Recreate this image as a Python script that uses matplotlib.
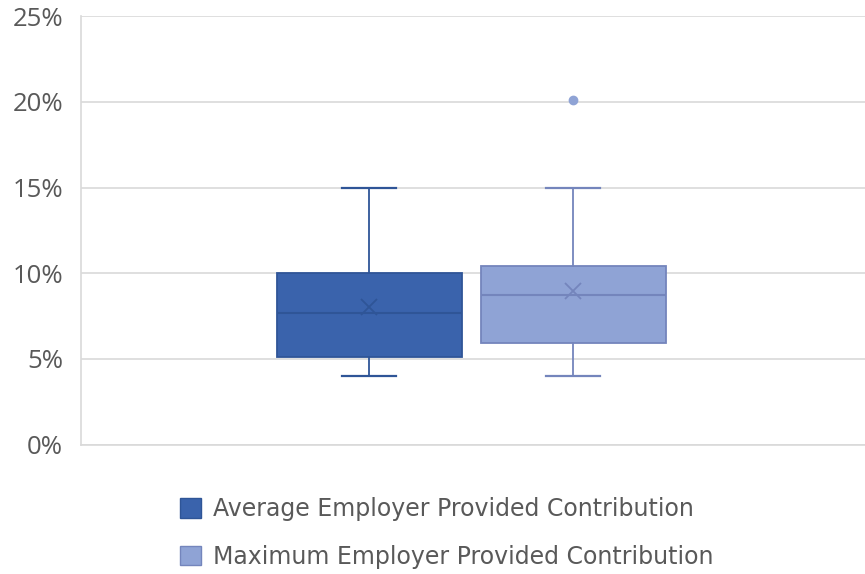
import matplotlib
matplotlib.use('Agg')
import matplotlib.pyplot as plt
from matplotlib.patches import Patch
from matplotlib.ticker import FuncFormatter

# series (values in %)
series_names = ['Average Employer Provided Contribution', 'Maximum Employer Provided Contribution']
whisker_low = [4.0, 4.0]
q1 = [5.1, 5.95]
median = [7.7, 8.75]
mean = [8.05, 8.95]
q3 = [10.0, 10.4]
whisker_high = [15.0, 15.0]
outliers = [[], [20.1]]
y_ticks = [0, 5, 10, 15, 20, 25]

face_colors = ['#3A63AC', '#8FA3D5']
edge_colors = ['#2F5597', '#7485BC']
grey = '#595959'

plt.rcParams['font.family'] = ['Open Sans', 'DejaVu Sans']

fig = plt.figure(figsize=(8.65, 5.74), dpi=100)
ax = fig.add_axes([81 / 865, 1 - 444.7 / 574, 784 / 865, (444.7 - 16.2) / 574])

stats = []
for i in range(len(series_names)):
    stats.append(dict(whislo=whisker_low[i], q1=q1[i], med=median[i], mean=mean[i],
                      q3=q3[i], whishi=whisker_high[i], fliers=outliers[i]))

positions = [0.3677, 0.628]
for i, st in enumerate(stats):
    ec = edge_colors[i]
    ax.bxp([st], positions=[positions[i]], widths=0.236, capwidths=0.069,
           showmeans=True, patch_artist=True, manage_ticks=False,
           boxprops=dict(facecolor=face_colors[i], edgecolor=ec, linewidth=1.3),
           whiskerprops=dict(color=ec, linewidth=1.3),
           capprops=dict(color=ec, linewidth=1.6),
           medianprops=dict(color=ec, linewidth=1.5),
           meanprops=dict(marker='x', markeredgecolor=ec, markersize=12, markeredgewidth=1.3),
           flierprops=dict(marker='o', markerfacecolor=face_colors[i], markeredgecolor=face_colors[i],
                           markersize=6))

ax.set_xlim(0, 1)
ax.set_ylim(0, 25)
ax.set_yticks(y_ticks)
ax.yaxis.set_major_formatter(FuncFormatter(lambda v, p: '%d%%' % v))
ax.set_xticks([])
ax.grid(axis='y', color='#D9D9D9', linewidth=1.2)
ax.set_axisbelow(True)
for s in ['top', 'right']:
    ax.spines[s].set_visible(False)
for s in ['left', 'bottom']:
    ax.spines[s].set_color('#D9D9D9')
    ax.spines[s].set_linewidth(1.2)
ax.tick_params(axis='y', length=0, pad=13, labelsize=18.5, labelcolor=grey)

handles = [Patch(facecolor=face_colors[i], edgecolor=edge_colors[i]) for i in range(len(series_names))]
fig.legend(handles, series_names, loc='upper left', bbox_to_anchor=(180 / 865, 1 - 497 / 574),
           frameon=False, prop=dict(family='DejaVu Sans', size=17), labelcolor=grey,
           handlelength=0.9, handleheight=0.9, handletextpad=0.5, labelspacing=1.0,
           borderpad=0, borderaxespad=0)

fig.savefig('out.png', dpi=100)
